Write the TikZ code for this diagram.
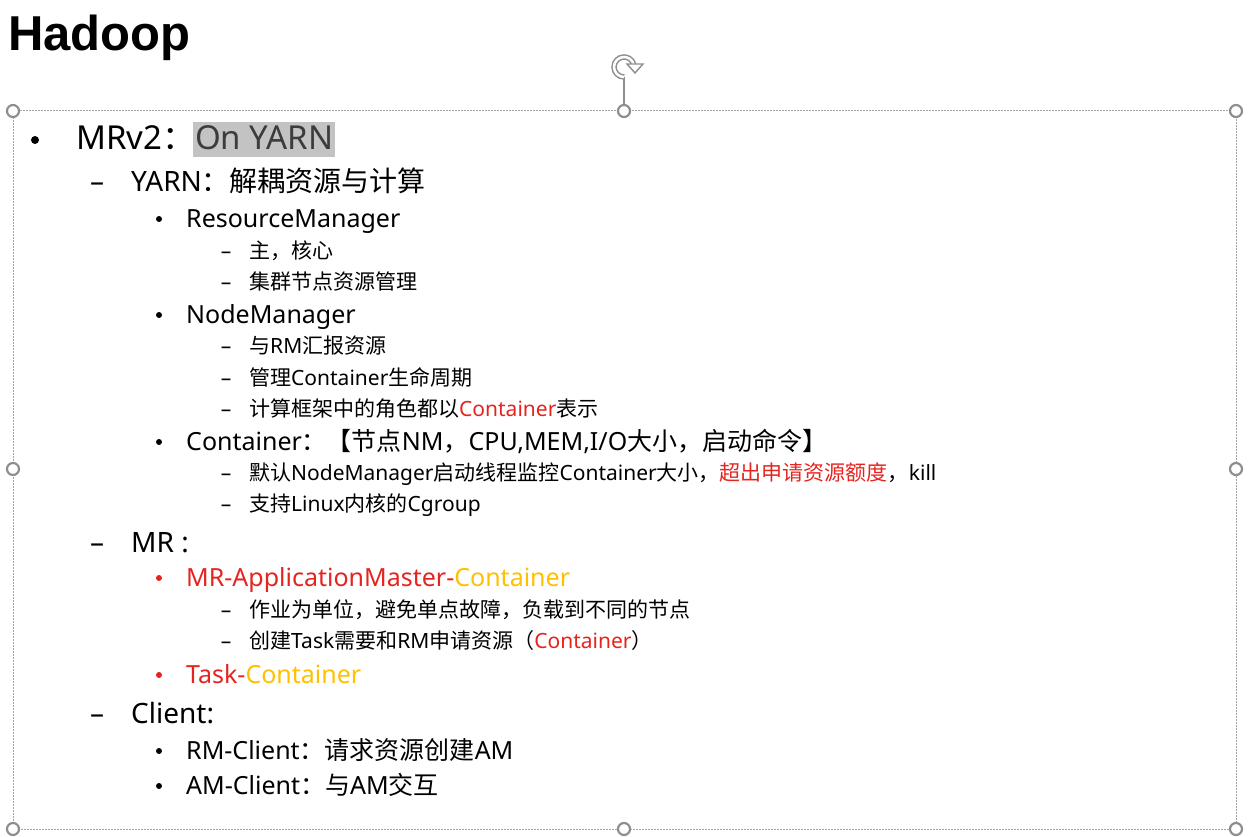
\documentclass[tikz,border=0pt]{standalone}
\usepackage{fontspec}
\setmainfont{Noto Sans}
\newfontfamily\zhfont{Noto Sans CJK SC}
\newfontfamily\headfont{Liberation Sans}
\newcommand{\zh}[1]{{\zhfont #1}}
\definecolor{pptred}{HTML}{E5231F}
\definecolor{pptgold}{HTML}{FFC000}
\definecolor{handlegray}{HTML}{8E8E8E}
\definecolor{hlgray}{HTML}{C3C3C3}
\definecolor{hltext}{HTML}{3C3C3C}
\tikzset{
	itemone/.style={anchor=base west,inner sep=0pt,font=\fontsize{33}{40}\selectfont},
	itemtwo/.style={anchor=base west,inner sep=0pt,font=\fontsize{28}{34}\selectfont},
	itemthree/.style={anchor=base west,inner sep=0pt,font=\fontsize{25}{30}\selectfont},
	itemfour/.style={anchor=base west,inner sep=0pt,font=\fontsize{21}{25}\selectfont},
	dot/.style={circle,fill,inner sep=0pt,minimum size=#1},
	handle/.style={circle,draw=handlegray,fill=white,line width=2.2pt,minimum size=12pt,inner sep=0pt},
	selbox/.style={draw=handlegray!80,line width=1pt,dash pattern=on 1.6pt off 1.4pt},
}
\begin{document}
\begin{tikzpicture}
	\begin{scope}[x=1pt,y=-1pt]
	\useasboundingbox (0,0) rectangle (1250,837);
	\node[anchor=base west,inner sep=0pt,font=\headfont\bfseries\fontsize{49}{58}\selectfont] (title) at (8,51) {Hadoop};
	% selection frame
	\draw[selbox] (13,111) rectangle (1236,829);
	\node[handle] (hnw) at (13,111) {};
	\node[handle] (hn) at (624,111) {};
	\node[handle] (hne) at (1236,111) {};
	\node[handle] (hw) at (13,469) {};
	\node[handle] (he) at (1236,469) {};
	\node[handle] (hsw) at (13,829) {};
	\node[handle] (hs) at (624,829) {};
	\node[handle] (hse) at (1236,829) {};
	% rotate handle
	\coordinate (rot) at (624,77);
	\draw[handlegray,line width=1.4pt] (rot) -- (hn);
	\draw[handlegray,line width=5.5pt] (624,77) arc[start angle=90,end angle=362,radius=10];
	\draw[white,line width=2.5pt] (624,77) arc[start angle=90,end angle=362,radius=10];
	\draw[handlegray,fill=white,line width=1.4pt] (627,64)--(643,64)--(635,73)--cycle;
	% level 1
	\node[dot=8pt] (b1) at (35,140) {};
	\node[itemone] (mrv) at (76,150) {MRv2\zh{：}};
	\node[itemone,fill=hlgray,text=hltext,inner xsep=2pt,text height=28pt,text depth=7pt] (onyarn) at (193,150) {On YARN};
	% YARN
	\node[itemtwo,anchor=base] (d1) at (97,192) {–};
	\node[itemtwo] (yarn) at (131,192) {YARN\zh{：解耦资源与计算}};
	\node[dot=6pt] (b2) at (159,219) {};
	\node[itemthree] (rm) at (186,227) {ResourceManager};
	\node[itemfour,anchor=base] (d2) at (226,258.5) {–};
	\node[itemfour] (rma) at (249,258.5) {\zh{主，核心}};
	\node[itemfour,anchor=base] (d3) at (226,289.5) {–};
	\node[itemfour] (rmb) at (249,289.5) {\zh{集群节点资源管理}};
	\node[dot=6pt] (b3) at (159,315) {};
	\node[itemthree] (nm) at (186,323) {NodeManager};
	\node[itemfour,anchor=base] (d4) at (226,353.5) {–};
	\node[itemfour] (nma) at (249,353.5) {\zh{与}RM\zh{汇报资源}};
	\node[itemfour,anchor=base] (d5) at (226,385.5) {–};
	\node[itemfour] (nmb) at (249,385.5) {\zh{管理}Container\zh{生命周期}};
	\node[itemfour,anchor=base] (d6) at (226,416.5) {–};
	\node[itemfour] (nmc) at (249,416.5) {\zh{计算框架中的角色都以}\textcolor{pptred}{Container}\zh{表示}};
	\node[dot=6pt] (b4) at (159,442) {};
	\node[itemthree] (ct) at (186,450) {Container\zh{：【节点}NM\zh{，}CPU,MEM,I/O\zh{大小，启动命令】}};
	\node[itemfour,anchor=base] (d7) at (226,480.5) {–};
	\node[itemfour] (cta) at (249,480.5) {\zh{默认}NodeManager\zh{启动线程监控}Container\zh{大小，}\textcolor{pptred}{\zh{超出申请资源额度}}\zh{，}kill};
	\node[itemfour,anchor=base] (d8) at (226,511.5) {–};
	\node[itemfour] (ctb) at (249,511.5) {\zh{支持}Linux\zh{内核的}Cgroup};
	% MR
	\node[itemtwo,anchor=base] (d9) at (97,552) {–};
	\node[itemtwo] (mr) at (131,552) {MR :};
	\node[dot=6pt,pptred] (b5) at (159,578) {};
	\node[itemthree] (am) at (186,586) {\textcolor{pptred}{MR-ApplicationMaster-}\textcolor{pptgold}{Container}};
	\node[itemfour,anchor=base] (d10) at (226,617.5) {–};
	\node[itemfour] (ama) at (249,617.5) {\zh{作业为单位，避免单点故障，负载到不同的节点}};
	\node[itemfour,anchor=base] (d11) at (226,648.5) {–};
	\node[itemfour] (amb) at (249,648.5) {\zh{创建}Task\zh{需要和}RM\zh{申请资源（}\textcolor{pptred}{Container}\zh{）}};
	\node[dot=6pt,pptred] (b6) at (159,675) {};
	\node[itemthree] (task) at (186,683) {\textcolor{pptred}{Task-}\textcolor{pptgold}{Container}};
	% Client
	\node[itemtwo,anchor=base] (d12) at (97,723) {–};
	\node[itemtwo] (cl) at (131,723) {Client:};
	\node[dot=6pt] (b7) at (159,751) {};
	\node[itemthree] (rmc) at (186,759) {RM-Client\zh{：请求资源创建}AM};
	\node[dot=6pt] (b8) at (159,786) {};
	\node[itemthree] (amc) at (186,794) {AM-Client\zh{：与}AM\zh{交互}};
	\end{scope}
\end{tikzpicture}
\end{document}
